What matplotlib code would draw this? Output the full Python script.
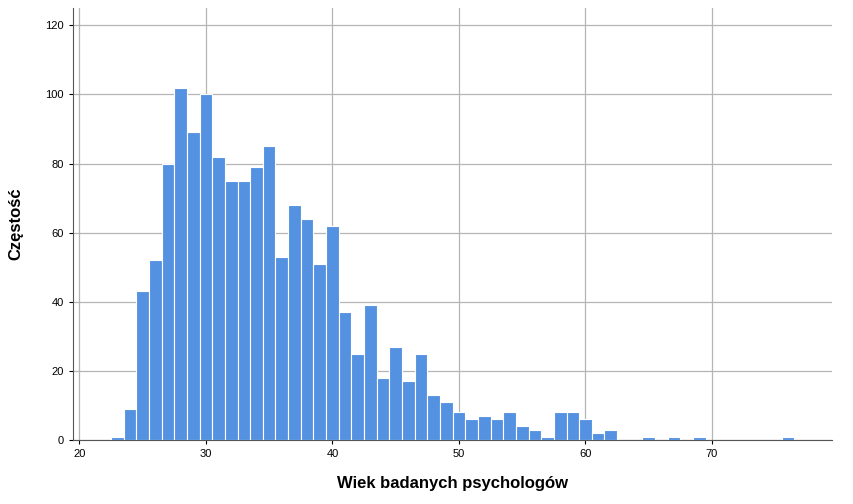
import matplotlib
matplotlib.use("Agg")
import matplotlib.pyplot as plt

ages = [23, 24, 25, 26, 27, 28, 29, 30, 31, 32, 33, 34, 35, 36, 37, 38, 39, 40,
        41, 42, 43, 44, 45, 46, 47, 48, 49, 50, 51, 52, 53, 54, 55, 56, 57, 58,
        59, 60, 61, 62, 65, 67, 69, 76]
counts = [1, 9, 43, 52, 80, 102, 89, 100, 82, 75, 75, 79, 85, 53, 68, 64, 51, 62,
          37, 25, 39, 18, 27, 17, 25, 13, 11, 8, 6, 7, 6, 8, 4, 3, 1, 8,
          8, 6, 2, 3, 1, 1, 1, 1]
x_ticks = [20, 30, 40, 50, 60, 70]
y_ticks = [0, 20, 40, 60, 80, 100, 120]

plt.rcParams["font.family"] = "Liberation Sans"
fig = plt.figure(figsize=(8.54, 5.04), dpi=100)
ax = fig.add_axes([0.0855, 0.127, 0.889, 0.857])

ax.bar(ages, counts, width=1.0, color="#5591e1", edgecolor="white", linewidth=0.8, zorder=3)

ax.set_xlim(19.5, 79.5)
ax.set_ylim(0, 125)
ax.set_xticks(x_ticks)
ax.set_yticks(y_ticks)
ax.tick_params(labelsize=8, length=3)
ax.grid(True, color="#b5b5b5", linewidth=0.9, zorder=0)
for s in ["top", "right"]:
    ax.spines[s].set_visible(False)
for s in ["left", "bottom"]:
    ax.spines[s].set_color("#555555")

ax.set_xlabel("Wiek badanych psychologów", fontsize=12, fontweight="bold", labelpad=12)
ax.set_ylabel("Częstość", fontsize=12, fontweight="bold", labelpad=16)

fig.savefig("out.png", dpi=100)
